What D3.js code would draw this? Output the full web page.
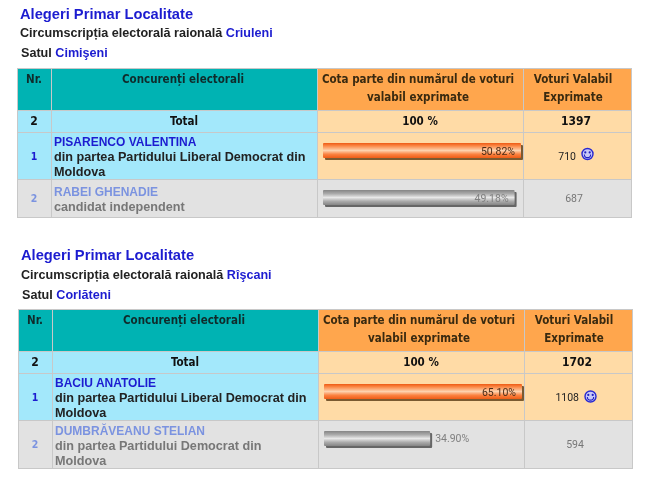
<!DOCTYPE html>
<html>
<head>
<meta charset="utf-8">
<script src="https://cdn.jsdelivr.net/npm/d3@7"></script>
<style>
html, body { margin: 0; padding: 0; background: #fff; }
svg { display: block; filter: blur(0.4px); }
.arial { font-family: "Liberation Sans", Arial, sans-serif; font-weight: bold; }
.tahoma { font-family: "DejaVu Sans Condensed", "DejaVu Sans", sans-serif; font-weight: bold; }
.small { font-family: Roboto, sans-serif; }
</style>
</head>
<body>
<div id="chart"></div>
<script>
// values
var titles = ["Alegeri Primar Localitate", "Alegeri Primar Localitate"];
var districts = ["Criuleni", "Rîşcani"];
var villages = ["Cimişeni", "Corlăteni"];
var totalVotes = [1397, 1702];
var candidates = [
	["PISARENCO VALENTINA", "RABEI GHENADIE"],
	["BACIU ANATOLIE", "DUMBRĂVEANU STELIAN"]
];
var parties = [
	[["din partea Partidului Liberal Democrat din", "Moldova"], ["candidat independent"]],
	[["din partea Partidului Liberal Democrat din", "Moldova"], ["din partea Partidului Democrat din", "Moldova"]]
];
var shares = [[50.82, 49.18], [65.10, 34.90]];
var votes = [[710, 687], [1108, 594]];

var width = 650, height = 486;

var svg = d3.select("#chart").append("svg")
	.attr("width", width)
	.attr("height", height);

var defs = svg.append("defs");

function barGradient(id, stops) {
	var g = defs.append("linearGradient").attr("id", id)
		.attr("x1", 0).attr("x2", 0).attr("y1", 0).attr("y2", 1);
	stops.forEach(function(s) {
		g.append("stop").attr("offset", s[0]).attr("stop-color", s[1]);
	});
}
barGradient("winBar", [[0, "#ee5a14"], [0.2, "#fb8a48"], [0.5, "#fdd2ae"], [0.75, "#fb8240"], [1, "#ee5c16"]]);
barGradient("loseBar", [[0, "#858585"], [0.25, "#ababab"], [0.5, "#e8e8e8"], [0.75, "#ababab"], [1, "#858585"]]);

// block positions for the two tables
var blocks = [
	{ x: 17, titleY: 18.5, distY: 36.5, villY: 57, rows: [68, 110, 132, 179, 217] },
	{ x: 18, titleY: 260, distY: 278.5, villY: 299, rows: [309, 351, 373, 420, 468] }
];
var colOffsets = [0, 34, 300, 506, 614];

var blue = "#1c1cd0", border = "#c8c8c8";

function addText(g, cls, x, y, size, fill, anchor, str) {
	return g.append("text").attr("class", cls)
		.attr("x", x).attr("y", y)
		.attr("font-size", size)
		.attr("fill", fill)
		.attr("text-anchor", anchor || "start")
		.text(str);
}

function smiley(g, cx, cy) {
	g.append("circle").attr("cx", cx).attr("cy", cy).attr("r", 5.5).attr("fill", "#c8c8f8").attr("stroke", "#2a2ad0").attr("stroke-width", 1.4);
	g.append("circle").attr("cx", cx - 2.2).attr("cy", cy - 1.6).attr("r", 1.1).attr("fill", "#2020c0");
	g.append("circle").attr("cx", cx + 2.2).attr("cy", cy - 1.6).attr("r", 1.1).attr("fill", "#2020c0");
	g.append("path").attr("d", d3.arc()({ innerRadius: 2.6, outerRadius: 3.7, startAngle: Math.PI / 2, endAngle: Math.PI * 3 / 2 }))
		.attr("transform", "translate(" + cx + "," + (cy + 0.5) + ")").attr("fill", "#2020c0");
}

blocks.forEach(function(b, t) {
	var g = svg.append("g");
	var cols = colOffsets.map(function(o) { return b.x + o; });
	var r = b.rows;

	addText(g, "arial", b.x + 3, b.titleY, 14.7, blue, "start", titles[t]);
	var line = addText(g, "arial", b.x + 3, b.distY, 12.6, "#222", "start", "Circumscripția electorală raională ");
	line.append("tspan").attr("fill", blue).text(districts[t]);
	var vill = addText(g, "arial", b.x + 4, b.villY, 12.6, "#222", "start", "Satul ");
	vill.append("tspan").attr("fill", blue).text(villages[t]);

	// cell backgrounds
	var cells = [
		[0, 1, 0, "#00b3b3"], [1, 2, 0, "#00b3b3"], [2, 3, 0, "#ffa64d"], [3, 4, 0, "#ffa64d"],
		[0, 1, 1, "#a3e8fb"], [1, 2, 1, "#a3e8fb"], [2, 3, 1, "#ffdba6"], [3, 4, 1, "#ffdba6"],
		[0, 1, 2, "#a3e8fb"], [1, 2, 2, "#a3e8fb"], [2, 3, 2, "#ffdba6"], [3, 4, 2, "#ffdba6"],
		[0, 1, 3, "#e2e2e2"], [1, 2, 3, "#e2e2e2"], [2, 3, 3, "#e2e2e2"], [3, 4, 3, "#e2e2e2"]
	];
	g.selectAll("rect.cell").data(cells).enter().append("rect")
		.attr("class", "cell")
		.attr("x", function(d) { return cols[d[0]] + 0.5; })
		.attr("y", function(d) { return r[d[2]] + 0.5; })
		.attr("width", function(d) { return cols[d[1]] - cols[d[0]]; })
		.attr("height", function(d) { return r[d[2] + 1] - r[d[2]]; })
		.attr("fill", function(d) { return d[3]; })
		.attr("stroke", border);

	// header
	var dark = "#0f2b2b", brown = "#3a2a10";
	addText(g, "tahoma", (cols[0] + cols[1]) / 2, r[0] + 15, 11.5, dark, "middle", "Nr.");
	addText(g, "tahoma", (cols[1] + cols[2]) / 2 - 1, r[0] + 15, 11.5, dark, "middle", "Concurenți electorali");
	addText(g, "tahoma", (cols[2] + cols[3]) / 2 - 2, r[0] + 15, 11.5, brown, "middle", "Cota parte din numărul de voturi");
	addText(g, "tahoma", (cols[2] + cols[3]) / 2 - 2, r[0] + 32.5, 11.5, brown, "middle", "valabil exprimate");
	addText(g, "tahoma", (cols[3] + cols[4]) / 2 - 4, r[0] + 15, 11.5, brown, "middle", "Voturi Valabil");
	addText(g, "tahoma", (cols[3] + cols[4]) / 2 - 4, r[0] + 32.5, 11.5, brown, "middle", "Exprimate");

	// total row
	addText(g, "tahoma", (cols[0] + cols[1]) / 2, r[1] + 15, 12, "#111", "middle", candidates[t].length);
	addText(g, "tahoma", (cols[1] + cols[2]) / 2, r[1] + 15, 11.5, "#111", "middle", "Total");
	addText(g, "tahoma", (cols[2] + cols[3]) / 2, r[1] + 15, 11.5, "#111", "middle", "100 %");
	addText(g, "tahoma", (cols[3] + cols[4]) / 2 - 1, r[1] + 15, 12, "#111", "middle", totalVotes[t]);

	// bars are scaled to the largest share of each table
	var xScale = d3.scaleLinear()
		.domain([0, d3.max(shares[t])])
		.range([0, 198]);

	candidates[t].forEach(function(name, i) {
		var top = r[2 + i], bottom = r[3 + i];
		var win = i === 0;
		var nameCol = win ? blue : "#7b93e0";
		var textCol = win ? "#222" : "#777";
		var midY = (top + bottom) / 2;

		addText(g, "tahoma", (cols[0] + cols[1]) / 2, midY + 4, 10.5, nameCol, "middle", i + 1);

		// name and party are centred as one block in the cell
		var lines = parties[t][i].length + 1;
		var firstY = midY - lines * 7.5 + 13;
		addText(g, "arial", cols[1] + 3, firstY, 12, nameCol, "start", name);
		parties[t][i].forEach(function(l, k) {
			addText(g, "arial", cols[1] + 3, firstY + 15 + k * 15, 12.65, textCol, "start", l);
		});

		var barX = cols[2] + 6, barY = top + 11, barH = 15;
		var w = xScale(shares[t][i]);
		g.append("rect").attr("x", barX + 2).attr("y", barY + 2).attr("width", w).attr("height", barH).attr("rx", 1)
			.attr("fill", win ? "#7a5a30" : "#666");
		g.append("rect").attr("x", barX).attr("y", barY).attr("width", w).attr("height", barH).attr("rx", 1)
			.attr("fill", win ? "url(#winBar)" : "url(#loseBar)");

		var label = shares[t][i].toFixed(2) + "%";
		var labelCol = win ? "#4a2c18" : "#808080";
		if (w > 150) {
			addText(g, "small", barX + w - 6, barY + 12, 10.5, labelCol, "end", label);
		} else {
			addText(g, "small", barX + w + 5, barY + 11, 10.5, labelCol, "start", label);
		}

		var vx = (cols[3] + cols[4]) / 2;
		if (win) {
			var big = votes[t][i] > 999;
			var end = vx + (big ? 1 : -1);
			addText(g, "small", end, midY + 4.5, 10.5, "#222", "end", votes[t][i]);
			smiley(g, end + 11.5, midY + (big ? 0 : -1.5));
		} else {
			addText(g, "small", vx - 3, midY + 4, 10.5, "#777", "middle", votes[t][i]);
		}
	});
});
</script>
</body>
</html>
